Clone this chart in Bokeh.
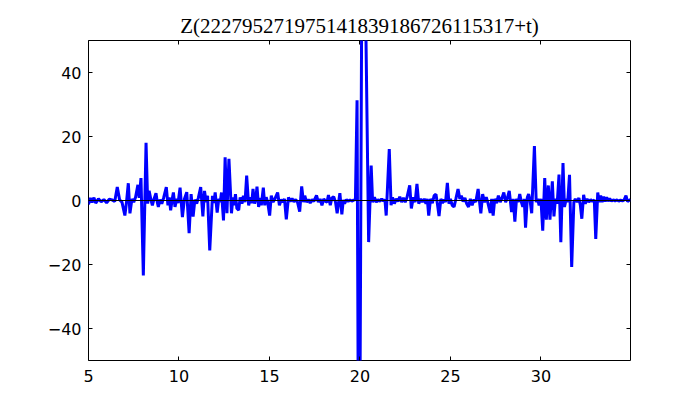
from bokeh.plotting import figure
from bokeh.models import Span, LinearAxis, FixedTicker, Range1d
from bokeh.embed import file_html
from bokeh.resources import INLINE

title_text = "Z(222795271975141839186726115317+t)"
x_ticks = [5, 10, 15, 20, 25, 30]
y_ticks = [-40, -20, 0, 20, 40]
y_tick_labels = {-40: "\u221240", -20: "\u221220", 0: "0", 20: "20", 40: "40"}

t_vals = [
    5.0, 5.1, 5.2, 5.3, 5.4, 5.55, 5.7, 5.85, 6.0, 6.15, 6.3, 6.45,
    6.59, 6.72, 6.85, 7.01, 7.1, 7.2, 7.29, 7.4, 7.5, 7.6, 7.73, 7.8, 7.9,
    8.03, 8.18, 8.27, 8.35, 8.45, 8.53, 8.62, 8.73, 8.8, 8.86, 8.95, 9.05,
    9.15, 9.30, 9.39, 9.46, 9.54, 9.62, 9.69, 9.78, 9.88, 9.95, 10.06,
    10.19, 10.3, 10.43, 10.56, 10.67, 10.78, 10.88, 10.98, 11.07, 11.2,
    11.32, 11.41, 11.5, 11.58, 11.70, 11.85, 11.93, 12.0, 12.11, 12.2,
    12.28, 12.35, 12.46, 12.55, 12.65, 12.76, 12.9, 12.98, 13.05, 13.12,
    13.2, 13.3, 13.38, 13.48, 13.56, 13.65, 13.74, 13.85, 13.95, 14.02,
    14.09, 14.18, 14.25, 14.31, 14.4, 14.48, 14.55, 14.66, 14.74, 14.82,
    14.9, 15.01, 15.1, 15.2, 15.3, 15.45, 15.55, 15.65, 15.75, 15.83,
    15.93, 16.05, 16.15, 16.25, 16.35, 16.45, 16.55, 16.67, 16.78, 16.88,
    16.95, 17.05, 17.15, 17.25, 17.35, 17.45, 17.6, 17.7, 17.8, 17.9,
    18.0, 18.1, 18.18, 18.26, 18.36, 18.45, 18.55, 18.65, 18.74, 18.89,
    19.0, 19.08, 19.15, 19.25, 19.35, 19.45, 19.55, 19.65, 19.75, 19.84,
    19.95, 20.15, 20.48, 20.56, 20.62, 20.7, 20.8, 20.9, 21.0, 21.1, 21.2,
    21.3, 21.38, 21.45, 21.62, 21.72, 21.8, 21.9, 22.0, 22.1, 22.2, 22.3,
    22.4, 22.5, 22.6, 22.75, 22.84, 22.95, 23.05, 23.15, 23.25, 23.35,
    23.45, 23.55, 23.65, 23.72, 23.8, 23.9, 24.0, 24.1, 24.2, 24.28,
    24.37, 24.47, 24.56, 24.65, 24.73, 24.83, 24.92, 25.0, 25.1, 25.2,
    25.3, 25.42, 25.52, 25.6, 25.7, 25.8, 25.9, 26.0, 26.1, 26.2, 26.3,
    26.4, 26.53, 26.68, 26.78, 26.88, 26.98, 27.06, 27.2, 27.28, 27.36,
    27.45, 27.55, 27.65, 27.75, 27.85, 27.95, 28.05, 28.15, 28.25, 28.38,
    28.47, 28.56, 28.65, 28.75, 28.83, 28.92, 29.0, 29.08, 29.15, 29.25,
    29.32, 29.4, 29.49, 29.64, 29.74, 29.82, 29.9, 30.0, 30.1, 30.21,
    30.3, 30.41, 30.5, 30.63, 30.72, 30.8, 30.9, 31.0, 31.1, 31.22, 31.3,
    31.4, 31.48, 31.58, 31.7, 31.82, 31.9, 32.0, 32.1, 32.18, 32.26,
    32.36, 32.45, 32.55, 32.65, 32.75, 32.85, 32.95, 33.03, 33.14, 33.22,
    33.3, 33.38, 33.46, 33.55, 33.63, 33.72, 33.8, 33.9, 34.0, 34.1, 34.2,
    34.3, 34.4, 34.5, 34.6, 34.7, 34.78, 34.95,
]

z_vals = [
    -1.2, 0.8, -0.6, 0.9, -0.8, 0.5, -0.4, 0.3, -0.7, 0.4, 0.2, -0.3,
    4.2, 0.2, -0.5, -4.7, -0.5, 5.4, -4.0, 0.5, -0.5, 1.0, 4.9, 0.8, 7.0,
    -23.4, 18.0, -1.0, 3.0, 0.2, -1.5, 0.5, 2.3, -0.5, -2.0, 0.3, -1.0,
    0.8, 4.2, -1.5, 1.0, -3.1, 0.2, 2.5, -2.0, 0.5, -0.8, 4.0,
    -5.2, 0.5, 2.6, -10.2, 2.0, -5.0, 0.3, -1.0, 0.8, 4.2,
    -5.0, 3.0, -0.5, 1.5, -15.6, 1.5, -0.8, 2.5, -3.8, 0.5,
    -0.5, 2.5, -6.2, 13.5, -4.0, 13.0, -4.0, 1.0, -1.5, 2.0,
    -2.5, -3.0, 1.0, -1.0, 1.5, -0.5, 7.8, -1.5, 1.0, -0.8,
    3.6, -1.0, 0.5, 4.3, -2.0, 0.8, -1.5, 4.0, -1.5, 1.0,
    -0.5, -4.7, 1.5, -0.5, 0.5, 2.5, -1.5, 0.3, -0.5, 0.5,
    -5.9, 1.0, -0.3, 0.6, -0.4, 0.3, -0.5, -3.5, 4.4, -0.5,
    1.5, -0.5, 0.3, -0.8, 0.3, -0.3, 1.6, -0.5, 0.5, -1.5,
    0.5, -0.3, -0.5, 1.7, -1.5, 0.8, 1.2, -0.5, -4.0, 2.3,
    -4.3, 0.2, -1.0, 0.3, -0.3, 0.2, -0.2, 0.1, 0.3, 31.3,
    -130.0, 130.0, -13.0, 0.5, 10.9, -0.5, 1.0, -0.5, 0.3, -0.3, 0.5,
    -0.2, 0.3, -4.7, 16.1, -1.5, 1.0, -1.0, 0.5, -0.3, 1.2, -0.5,
    0.8, -0.5, 1.0, 4.7, -2.5, 1.0, -0.5, 5.2, -1.0, 0.5,
    -0.5, 0.5, -1.0, 0.5, -4.7, 0.5, -0.8, 1.5, 2.0, -1.0,
    -4.9, 0.5, -0.8, 0.3, -0.5, 5.5, -1.0, 0.5, -1.5, -2.0,
    0.5, 3.6, 0.5, 1.5, -0.3, 0.8, -1.0, -2.0, 0.5, -1.5, 0.3,
    -0.5, 3.6, -4.0, 2.0, -0.5, 1.0, -0.5, -3.9, 0.5, -4.7,
    0.5, -0.8, 1.5, -0.5, 0.8, 2.5, -0.5, 0.8, 3.0, -3.6,
    0.5, -6.6, 0.5, -0.5, 2.0, -0.5, -2.0, 0.5, -8.5, 1.0,
    2.0, 0.0, -4.0, 17.0, -0.5, 0.5, -1.5, 0.5, -9.4, 7.0,
    -6.0, 4.7, -6.0, 6.0, -5.0, 0.5, -1.0, 8.1, -13.0, 11.7, -2.0,
    0.5, -0.5, 8.0, -20.8, -0.5, 0.5, -0.5, 0.8, -1.5, -5.7,
    1.8, -1.0, 0.5, -0.5, 0.3, -0.3, 0.2, -12.0, 2.5, -0.5,
    1.5, -0.5, 1.2, -0.3, 1.0, -0.2, 0.6, -0.2, 0.2, -0.1, 0.2,
    -0.2, 0.1, -0.1, 0.2, 1.5, -0.3, 0.3,
]

p = figure(
    frame_width=542, frame_height=320,
    min_border_left=88, min_border_right=69, min_border_top=40, min_border_bottom=39,
    x_range=Range1d(5, 34.95), y_range=Range1d(-50, 50),
    output_backend="svg", toolbar_location=None,
    title=title_text,
)
p.title.align = "center"
p.title.text_font = "Liberation Serif"
p.title.text_font_size = "21px"
p.title.text_font_style = "normal"
p.title.text_color = "black"
p.title.standoff = 5

p.background_fill_color = "white"
p.border_fill_color = "white"
p.outline_line_color = "black"
p.outline_line_width = 1
p.grid.visible = False

for ax in [p.xaxis[0], p.yaxis[0]]:
    ax.axis_line_color = None
    ax.major_tick_in = 4
    ax.major_tick_out = 0
    ax.minor_tick_line_color = None
    ax.major_tick_line_color = "black"
    ax.major_label_text_font = "DejaVu Sans"
    ax.major_label_text_font_size = "16px"
    ax.major_label_text_color = "black"

p.xaxis[0].ticker = FixedTicker(ticks=x_ticks)
p.yaxis[0].ticker = FixedTicker(ticks=y_ticks)
p.yaxis[0].major_label_overrides = y_tick_labels
p.xaxis[0].major_label_standoff = 9
p.yaxis[0].major_label_standoff = 7

top_ax = LinearAxis(ticker=FixedTicker(ticks=x_ticks))
right_ax = LinearAxis(ticker=FixedTicker(ticks=y_ticks))
for ax in [top_ax, right_ax]:
    ax.axis_line_color = None
    ax.major_tick_in = 4
    ax.major_tick_out = 0
    ax.minor_tick_line_color = None
    ax.major_tick_line_color = "black"
    ax.major_label_text_font_size = "1px"
    ax.major_label_text_color = None
    ax.major_label_standoff = 0
p.add_layout(top_ax, "above")
p.add_layout(right_ax, "right")

p.add_layout(Span(location=0, dimension="width", line_color="black", line_width=1))
p.line(t_vals, z_vals, line_color="#0000ff", line_width=3)

open("out.html", "w").write(file_html(p, INLINE))
